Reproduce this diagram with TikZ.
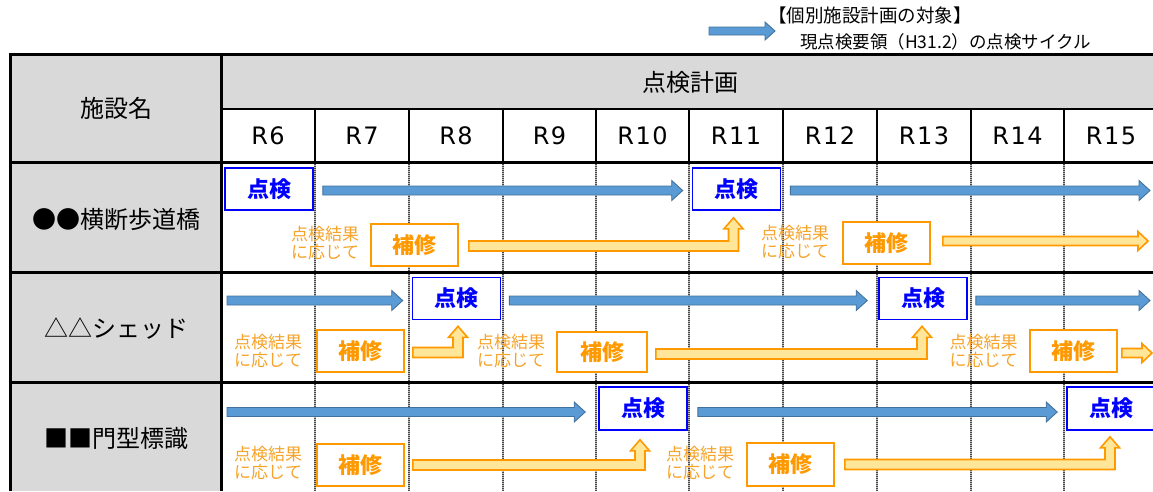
\documentclass[tikz,border=0pt]{standalone}
\usepackage{fontspec}
\setmainfont{Noto Sans CJK JP}
\newfontfamily\latfont[LetterSpace=6]{DejaVu Sans}
\usetikzlibrary{calc}
\definecolor{hdrgray}{HTML}{D9D9D9}
\definecolor{arrblue}{HTML}{5B9BD5}
\definecolor{arrblueline}{HTML}{41719C}
\definecolor{ornge}{HTML}{FF9900}
\definecolor{notecol}{HTML}{F5A32A}
\definecolor{lightyel}{HTML}{FFE699}
\definecolor{inspblue}{HTML}{0000FF}
\definecolor{dotgray}{HTML}{4A4A4A}
\tikzset{
  inspbox/.style={draw=inspblue, line width=1.6pt, fill=white, text=inspblue,
    font=\fontsize{22}{26}\selectfont\bfseries, inner sep=0pt, minimum width=88pt, minimum height=42pt},
  repbox/.style={draw=ornge, line width=1.6pt, fill=white, text=ornge,
    font=\fontsize{22}{26}\selectfont\bfseries, inner sep=0pt, minimum width=87pt, minimum height=42pt},
  note/.style={text=notecol, font=\fontsize{17}{18.5}\selectfont, align=left, inner sep=0pt},
  bluearr/.style={fill=arrblue, draw=arrblueline, line width=0.9pt, line join=miter},
  orarr/.style={fill=lightyel, draw=ornge, line width=1.6pt, line join=miter},
  hdrtext/.style={font=\fontsize{24}{27}\selectfont, inner sep=0pt},
  yeartext/.style={font=\latfont\fontsize{24}{27}\selectfont, inner sep=0pt},
  legtext/.style={font=\fontsize{17.5}{20}\selectfont, inner sep=0pt, anchor=west},
  majorline/.style={line width=3pt, black},
  yearline/.style={line width=2.5pt, black},
  dotline/.style={line width=2pt, dotgray, dash pattern=on 1pt off 1pt},
  dotbase/.style={line width=2pt, gray!55}
}
% #1 style, #2 start, #3 end, #4 shaft half width, #5 head half width, #6 head length
\newcommand\harrow[6]{\filldraw[#1] let \p1=(#2), \p2=(#3) in
  (\x1,\y1+#4) -- (\x2-#6,\y1+#4) -- (\x2-#6,\y1+#5) -- (\x2,\y1) --
  (\x2-#6,\y1-#5) -- (\x2-#6,\y1-#4) -- (\x1,\y1-#4) -- cycle;}
% bent-up arrow: #1 start of horizontal shaft, #2 tip
\newcommand\bentup[2]{\filldraw[orarr] let \p1=(#1), \p2=(#2) in
  (\x1,\y1+5pt) -- (\x2-5pt,\y1+5pt) -- (\x2-5pt,\y2-11pt) -- (\x2-9.5pt,\y2-11pt) --
  (\x2,\y2) -- (\x2+9.5pt,\y2-11pt) -- (\x2+5pt,\y2-11pt) -- (\x2+5pt,\y1-5pt) --
  (\x1,\y1-5pt) -- cycle;}
\begin{document}
\begin{tikzpicture}[x=1pt,y=-1pt]
\useasboundingbox (0,0) rectangle (1153,491);
% fills
\fill[hdrgray] (10,54) rectangle (221,491);
\fill[hdrgray] (221,54) rectangle (1153,109);
% dotted data verticals
\foreach \x in {315,409,503,596,689,783,877,971,1064}{
  \draw[dotbase] (\x,162) -- (\x,491);
  \draw[dotline] (\x,162) -- (\x,491);
}
% header year verticals
\foreach \x in {315,409,503,596,689,783,877,971,1064}{
  \draw[yearline] (\x,109) -- (\x,162);
}
% major lines
\draw[majorline] (8.5,54) -- (1153,54);
\draw[yearline] (221,109) -- (1153,109);
\draw[majorline] (10,162) -- (1153,162);
\draw[majorline] (10,272) -- (1153,272);
\draw[majorline] (10,382) -- (1153,382);
\draw[majorline] (10,54) -- (10,491);
\draw[majorline] (221,54) -- (221,491);
% header texts
\node[hdrtext] (hname) at (116,108) {施設名};
\node[hdrtext] (hplan) at (690,82) {点検計画};
\node[yeartext] (y6) at (268,136) {R6};
\node[yeartext] (y7) at (362,136) {R7};
\node[yeartext] (y8) at (456,136) {R8};
\node[yeartext] (y9) at (549.5,136) {R9};
\node[yeartext] (y10) at (642.5,136) {R10};
\node[yeartext] (y11) at (736,136) {R11};
\node[yeartext] (y12) at (830,136) {R12};
\node[yeartext] (y13) at (924,136) {R13};
\node[yeartext] (y14) at (1017.5,136) {R14};
\node[yeartext] (y15) at (1111,136) {R15};
% facility names
\node[hdrtext] (f1) at (116,219) {●●横断歩道橋};
\node[hdrtext] (f2) at (116,328) {△△シェッド};
\node[hdrtext] (f3) at (116,438) {■■門型標識};
% legend
\coordinate (la1) at (709,31);
\coordinate (la2) at (775,31);
\harrow{bluearr}{la1}{la2}{4pt}{9pt}{10pt}
\node[legtext, font=\fontsize{18.5}{20}\selectfont] (lg1) at (768,15) {【個別施設計画の対象】};
\node[legtext] (lg2) at (800,42) {現点検要領（H31.2）の点検サイクル};
% ---------- row 1 ----------
\node[inspbox] (i11) at (269,189) {点検};
\node[inspbox] (i12) at (736.5,189) {点検};
\coordinate (e1) at (1150,190.5);
\harrow{bluearr}{$(i11.east)+(9,1.5)$}{$(i12.west)+(-9,1.5)$}{4.5pt}{10pt}{11pt}
\harrow{bluearr}{$(i12.east)+(9,1.5)$}{e1}{4.5pt}{10pt}{11pt}
\node[note] (n11) at (325,243) {点検結果\\に応じて};
\node[repbox] (r11) at (414.5,245) {補修};
\bentup{$(r11.east)+(10,1)$}{$(i12.south)+(-3,7)$}
\node[note] (n12) at (795,242) {点検結果\\に応じて};
\node[repbox] (r12) at (886.5,243) {補修};
\coordinate (e12) at (1148,241);
\harrow{orarr}{$(r12.east)+(12,-2)$}{e12}{4.5pt}{9.5pt}{10pt}
% ---------- row 2 ----------
\node[inspbox] (i21) at (456.5,298.5) {点検};
\node[inspbox] (i22) at (923,298.5) {点検};
\coordinate (s2) at (227,300.5);
\coordinate (e2) at (1150,300.5);
\harrow{bluearr}{s2}{$(i21.west)+(-9,2)$}{4.5pt}{10pt}{11pt}
\harrow{bluearr}{$(i21.east)+(8,2)$}{$(i22.west)+(-11,2)$}{4.5pt}{10pt}{11pt}
\harrow{bluearr}{$(i22.east)+(8,2)$}{e2}{4.5pt}{10pt}{11pt}
\node[note] (n21) at (268,351) {点検結果\\に応じて};
\node[repbox] (r21) at (360.5,351) {補修};
\bentup{$(r21.east)+(8,1.5)$}{$(i21.south)+(1.5,6)$}
\node[note] (n22) at (511,351) {点検結果\\に応じて};
\node[repbox, minimum width=90pt, minimum height=40pt] (r22) at (602,352) {補修};
\bentup{$(r22.east)+(8,2)$}{$(i22.south)+(-1,6)$}
\node[note] (n23) at (983.5,351) {点検結果\\に応じて};
\node[repbox] (r23) at (1073.5,351) {補修};
\coordinate (e23) at (1152,353);
\harrow{orarr}{$(r23.east)+(4,2)$}{e23}{4.5pt}{9.5pt}{10pt}
% ---------- row 3 ----------
\node[inspbox, minimum height=43pt] (i31) at (643,408.5) {点検};
\node[inspbox, minimum height=43pt] (i32) at (1111,408.5) {点検};
\coordinate (s3) at (227,412);
\harrow{bluearr}{s3}{$(i31.west)+(-13,3.5)$}{4.5pt}{10pt}{11pt}
\harrow{bluearr}{$(i31.east)+(10,3.5)$}{$(i32.west)+(-9,3.5)$}{4.5pt}{10pt}{11pt}
\node[note] (n31) at (268,463) {点検結果\\に応じて};
\node[repbox] (r31) at (360.5,465) {補修};
\bentup{$(r31.east)+(8,0)$}{$(i31.south)+(-3,9)$}
\node[note] (n32) at (700,463) {点検結果\\に応じて};
\node[repbox, minimum height=43pt] (r32) at (790.5,464.5) {補修};
\bentup{$(r32.east)+(10,0)$}{$(i32.south)+(-1,6)$}
\end{tikzpicture}
\end{document}
